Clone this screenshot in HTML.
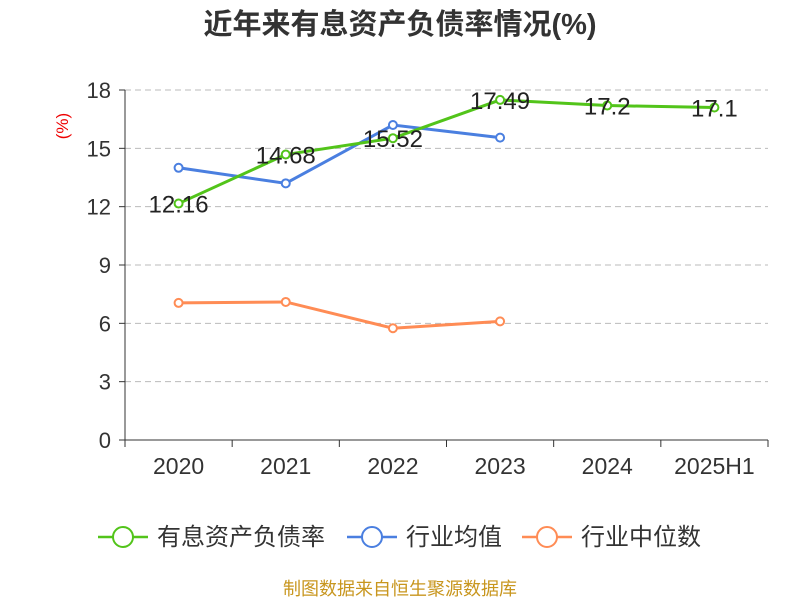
<!DOCTYPE html>
<html><head><meta charset="utf-8"><style>
body{margin:0;background:#fff;}
svg text{font-family:"Liberation Sans","Noto Sans CJK SC",sans-serif;}
</style></head><body>
<svg id="chart" width="800" height="600" xmlns="http://www.w3.org/2000/svg">
<text x="400" y="34" text-anchor="middle" font-size="29" font-weight="bold" fill="#333">近年来有息资产负债率情况(%)</text>
<text x="68" y="126" text-anchor="middle" font-size="17" fill="#e00" transform="rotate(-90 68 126)">(%)</text>
<g id="grid"></g><g id="axes"></g><g id="series"></g>
<g>
<g><line x1="98" y1="537" x2="148" y2="537" stroke="#52c41a" stroke-width="2.5"/><circle cx="123" cy="537" r="10" fill="#fff" stroke="#52c41a" stroke-width="2"/><text x="157" y="545" font-size="24" fill="#333">有息资产负债率</text></g>
<g><line x1="347" y1="537" x2="397" y2="537" stroke="#4a7fe0" stroke-width="2.5"/><circle cx="372" cy="537" r="10" fill="#fff" stroke="#4a7fe0" stroke-width="2"/><text x="406" y="545" font-size="24" fill="#333">行业均值</text></g>
<g><line x1="522" y1="537" x2="572" y2="537" stroke="#ff8c55" stroke-width="2.5"/><circle cx="547" cy="537" r="10" fill="#fff" stroke="#ff8c55" stroke-width="2"/><text x="581" y="545" font-size="24" fill="#333">行业中位数</text></g>
</g>
<text x="400" y="595" text-anchor="middle" font-size="18" fill="#c8961e">制图数据来自恒生聚源数据库</text>
</svg>
<script>
const categories=["2020","2021","2022","2023","2024","2025H1"];
const ratioValues=[12.16,14.68,15.52,17.49,17.2,17.1];
const ratioLabels=["12.16","14.68","15.52","17.49","17.2","17.1"];
const avgValues=[14.0,13.2,16.2,15.55];
const medianValues=[7.05,7.1,5.75,6.1];
const yTicks=[0,3,6,9,12,15,18];
const NS="http://www.w3.org/2000/svg";
const L=125,R=768,T=90,B=440,yMax=18;
const bw=(R-L)/categories.length;
const x=i=>L+bw*(i+0.5);
const y=v=>B-(v/yMax)*(B-T);
function mk(tag,attrs,parent){const e=document.createElementNS(NS,tag);for(const k in attrs)e.setAttribute(k,attrs[k]);parent.appendChild(e);return e;}
const grid=document.getElementById('grid'),axes=document.getElementById('axes'),ser=document.getElementById('series');
yTicks.forEach(t=>{
 if(t>0){const g=mk('line',{x1:L,x2:R,y1:y(t),y2:y(t),stroke:'#bbb','stroke-dasharray':'6,4'},grid);
 
 }
 const tk=mk('line',{x1:L-6,x2:L,y1:y(t),y2:y(t),stroke:'#333'},axes);
 
 
 const tx=mk('text',{x:L-14,y:y(t)+8,'text-anchor':'end','font-size':'22',fill:'#333'},axes);tx.textContent=t;
 
 
});
const ya=mk('line',{x1:L,x2:L,y1:T,y2:B,stroke:'#333'},axes);


const xa=mk('line',{x1:L,x2:R,y1:B,y2:B,stroke:'#333'},axes);


for(let i=0;i<=categories.length;i++){const t=mk('line',{x1:L+bw*i,x2:L+bw*i,y1:B,y2:B+7,stroke:'#333'},axes);
 
 }
categories.forEach((c,i)=>{const t=mk('text',{x:x(i),y:B+34,'text-anchor':'middle','font-size':'23',fill:'#333'},axes);t.textContent=c;
 
 });
function series(vals,color,name){
 const p=mk('polyline',{points:vals.map((v,i)=>x(i)+','+y(v)).join(' '),fill:'none',stroke:color,'stroke-width':3},ser);
 
 
 vals.forEach((v,i)=>{const c=mk('circle',{cx:x(i),cy:y(v),r:4,fill:'#fff',stroke:color,'stroke-width':2},ser);
  
  });
}
series(medianValues,'#ff8c55','industry-median');
series(avgValues,'#4a7fe0','industry-avg');
series(ratioValues,'#52c41a','interest-debt');
ratioValues.forEach((v,i)=>{const t=mk('text',{x:x(i),y:y(v)+9,'text-anchor':'middle','font-size':'24',fill:'#222'},ser);t.textContent=ratioLabels[i];
 
 });
</script>
</body></html>
